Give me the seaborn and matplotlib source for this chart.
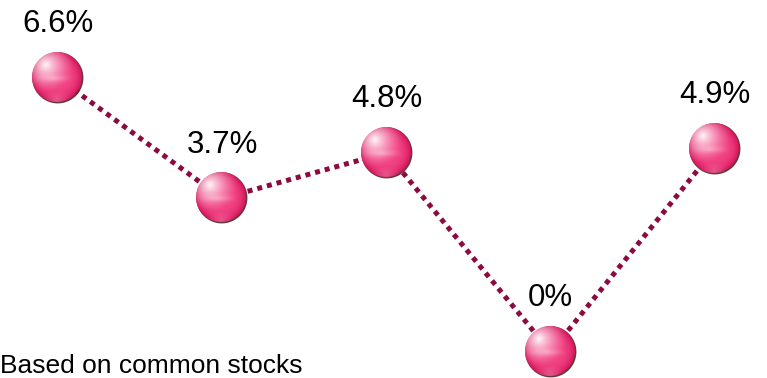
import numpy as np
import pandas as pd
import matplotlib
matplotlib.use('Agg')
import matplotlib.pyplot as plt
import seaborn as sns
from matplotlib.offsetbox import OffsetImage, AnnotationBbox

# データ
points = [1, 2, 3, 4, 5]
returns = [6.6, 3.7, 4.8, 0.0, 4.9]
labels = ['6.6%', '3.7%', '4.8%', '0%', '4.9%']
note = 'Based on common stocks'

line_color = '#8c0a40'


def sphere_image(d=50):
    # つやのあるピンクの球を作る
    D = d + 4
    yy, xx = np.mgrid[0:D, 0:D].astype(float)
    c = (d - 1) / 2 + 1
    rad = d / 2

    img = np.zeros((D, D, 4))

    # 細い縁取り（右下寄り）
    rs = np.sqrt((xx - c - 0.8) ** 2 + (yy - c - 0.8) ** 2)
    a_sh = np.clip(rad + 0.6 - rs + 0.5, 0, 1) * 0.9
    img[..., :3] = np.array([0.32, 0.14, 0.14])
    img[..., 3] = a_sh

    u = (xx - c) / (rad - 0.5)
    v = (yy - c) / (rad - 0.5)
    r2 = np.clip(u ** 2 + v ** 2, 0, 1)

    pink = np.array([0.95, 0.27, 0.52])
    dark = np.array([0.84, 0.08, 0.36])
    # 縁に向かって濃く
    k = (r2 ** 2)[..., None]
    col = pink * (1 - k) + dark * k
    # 左上のハイライト
    dist = np.sqrt((u + 0.45) ** 2 + (v + 0.5) ** 2)
    w = np.clip(1 - dist / 1.15, 0, 1) ** 1.4 * 0.95
    col = col + (1 - col) * w[..., None]
    # 横方向の反射帯
    band = np.exp(-((v - 0.05) / 0.13) ** 2) * np.clip(1 - np.abs(u + 0.15) * 1.2, 0, 1) * 0.3
    col = col + (1 - col) * band[..., None]
    # 下側の照り返し
    rim = np.clip((v - 0.6) / 0.35, 0, 1) * np.clip(1 - np.abs(u) * 1.6, 0, 1) * 0.25
    col = col + (1 - col) * rim[..., None]
    col = np.clip(col, 0, 1)

    a_sp = np.clip((rad - np.sqrt((xx - c) ** 2 + (yy - c) ** 2)) + 0.5, 0, 1)
    out_a = a_sp + img[..., 3] * (1 - a_sp)
    out_rgb = (col * a_sp[..., None]
               + img[..., :3] * (img[..., 3] * (1 - a_sp))[..., None]) / np.maximum(out_a, 1e-6)[..., None]
    img[..., :3] = np.clip(out_rgb, 0, 1)
    img[..., 3] = out_a
    return img


df = pd.DataFrame({'point': points, 'return': returns})

fig = plt.figure(figsize=(7.67, 3.78), dpi=100)
ax = fig.add_axes([0, 0, 1, 1])

sns.lineplot(data=df, x='point', y='return', color=line_color, linewidth=3.6, ax=ax)
ln = ax.lines[0]
ln.set_dashes([1, 1])
ln.set_dash_capstyle('butt')

ball = sphere_image(50)
for x, y, lab in zip(points, returns, labels):
    ab = AnnotationBbox(OffsetImage(ball, zoom=1, dpi_cor=False), (x, y),
                        frameon=False, pad=0, box_alignment=(0.5, 0.5), zorder=3)
    ax.add_artist(ab)
    ax.annotate(lab, (x, y), xytext=(0, 33), textcoords='offset points',
                ha='center', va='baseline', fontsize=22.5,
                family='Liberation Sans', color='black')

# 軸の範囲（図の配置に合わせる）
ax.set_xlim(1 - 58 / 164.25, 5 + 52 / 164.25)
ax.set_ylim(-26 / 41.52, 6.6 + 78 / 41.52)
ax.axis('off')

fig.text(0.0, 5 / 378, note, ha='left', va='baseline', fontsize=19,
         family='Liberation Sans', color='black')

fig.savefig('out.png', dpi=100)
